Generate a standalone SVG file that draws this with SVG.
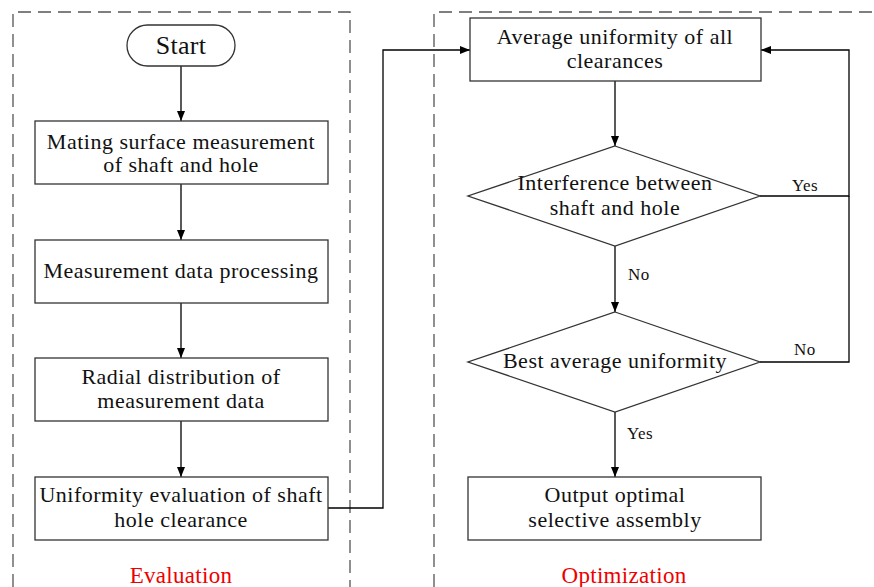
<svg xmlns="http://www.w3.org/2000/svg" width="874" height="587" viewBox="0 0 874 587">
<defs>
<marker id="ah" viewBox="0 0 10 8" refX="10" refY="4" markerWidth="10" markerHeight="8" markerUnits="userSpaceOnUse" orient="auto">
<path d="M0,0 L10,4 L0,8 Z" fill="#000"/>
</marker>
<style>
.box{fill:#fff;stroke:#333;stroke-width:1.3}
.t{font-family:"Liberation Serif","Times New Roman",serif;font-size:22px;letter-spacing:0.5px;fill:#111;text-anchor:middle}
.lbl{font-family:"Liberation Serif","Times New Roman",serif;font-size:17px;letter-spacing:0.4px;fill:#111}
.red{font-family:"Liberation Serif","Times New Roman",serif;font-size:23px;letter-spacing:0.3px;fill:#e00;text-anchor:middle}
.dash{fill:none;stroke:#555;stroke-width:1.3;stroke-dasharray:13,7}
.c{fill:none;stroke:#000;stroke-width:1.3}
</style>
</defs>
<rect width="874" height="587" fill="#fff"/>
<g id="regions">
<path class="dash" d="M13,587 V12 H350 V587"/>
<path class="dash" d="M434,587 V12 H874"/>
<text class="red" x="181" y="583">Evaluation</text>
<text class="red" x="624" y="583">Optimization</text>
</g>
<g id="connectors">
<path class="c" d="M181,66 V121" marker-end="url(#ah)"/>
<path class="c" d="M181,184 V240" marker-end="url(#ah)"/>
<path class="c" d="M181,303 V358" marker-end="url(#ah)"/>
<path class="c" d="M181,421 V477" marker-end="url(#ah)"/>
<path class="c" d="M328,508 H383 V50 H470" marker-end="url(#ah)"/>
<path class="c" d="M615,81 V146" marker-end="url(#ah)"/>
<path class="c" d="M615,246 V312" marker-end="url(#ah)"/>
<path class="c" d="M615,412 V477" marker-end="url(#ah)"/>
<path class="c" d="M760,196 H849 V50 H761" marker-end="url(#ah)"/>
<path class="c" d="M760,362 H849 V196"/>
<text class="lbl" x="792" y="191">Yes</text>
<text class="lbl" x="794" y="355">No</text>
<text class="lbl" x="628" y="280">No</text>
<text class="lbl" x="627" y="439">Yes</text>
</g>
<g id="start">
<rect class="box" x="127" y="25" width="108" height="41" rx="20.5"/>
<text class="t" x="181" y="54" style="font-size:26px;letter-spacing:0.3px">Start</text>
</g>
<g id="mating">
<rect class="box" x="35" y="121" width="293" height="63"/>
<text class="t" x="181" y="149">Mating surface measurement</text>
<text class="t" x="181" y="172">of shaft and hole</text>
</g>
<g id="processing">
<rect class="box" x="35" y="240" width="293" height="63"/>
<text class="t" x="181" y="278">Measurement data processing</text>
</g>
<g id="radial">
<rect class="box" x="35" y="358" width="293" height="63"/>
<text class="t" x="181" y="384">Radial distribution of</text>
<text class="t" x="181" y="408">measurement data</text>
</g>
<g id="uniformity">
<rect class="box" x="35" y="477" width="293" height="63"/>
<text class="t" x="181" y="502">Uniformity evaluation of shaft</text>
<text class="t" x="181" y="527">hole clearance</text>
</g>
<g id="average">
<rect class="box" x="470" y="18" width="291" height="63"/>
<text class="t" x="615" y="44">Average uniformity of all</text>
<text class="t" x="615" y="68">clearances</text>
</g>
<g id="interference">
<polygon class="box" points="615,146 760,196 615,246 468,196"/>
<text class="t" x="615" y="190">Interference between</text>
<text class="t" x="615" y="215">shaft and hole</text>
</g>
<g id="best">
<polygon class="box" points="615,312 760,362 615,412 468,362"/>
<text class="t" x="615" y="368">Best average uniformity</text>
</g>
<g id="output">
<rect class="box" x="468" y="477" width="293" height="63"/>
<text class="t" x="615" y="502">Output optimal</text>
<text class="t" x="615" y="527">selective assembly</text>
</g>
</svg>
